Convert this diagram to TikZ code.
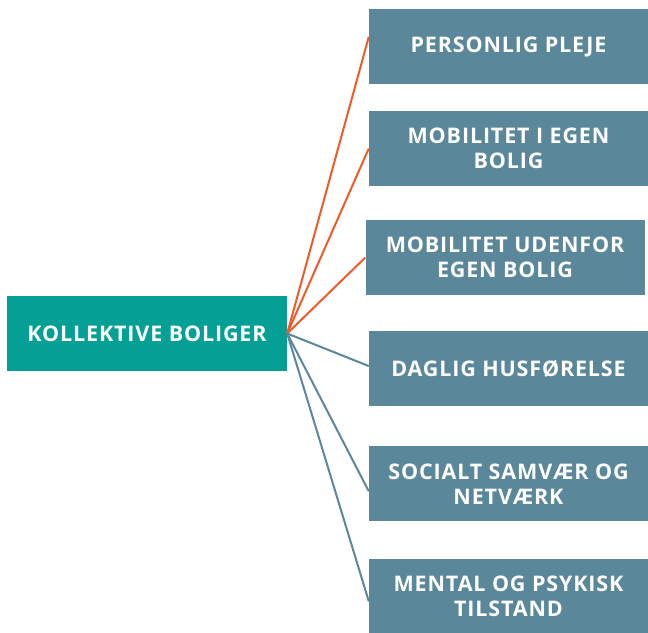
\documentclass[tikz,border=0pt]{standalone}
\usepackage{fontspec}
\setmainfont{Open Sans}[LetterSpace=4]
\definecolor{myteal}{HTML}{04A095}
\definecolor{myslate}{HTML}{5A8799}
\definecolor{myorange}{HTML}{F05A28}

\begin{document}
\begin{tikzpicture}[x=1pt,y=1pt]
\tikzset{box/.style ={shape=rectangle, fill=myslate, text=white, font=\bfseries\fontsize{21.5}{25}\selectfont, align=center, minimum width=279pt, minimum height=75pt, inner sep=0}}
\tikzset{hubbox/.style ={box, fill=myteal, minimum width=280pt}}
\tikzset{link/.style ={line width=2pt}}
\useasboundingbox (0,0) rectangle (648,632);
\node[hubbox] (hub) at (147,298.5) {KOLLEKTIVE BOLIGER};
\node[box] (pleje) at (508.5,585.5) {PERSONLIG PLEJE};
\node[box] (mobil) at (508.5,483.5) {MOBILITET I EGEN\\BOLIG};
\node[box] (ude) at (505,374.5) {MOBILITET UDENFOR\\EGEN BOLIG};
\node[box] (hus) at (508.5,263.5) {DAGLIG HUSFØRELSE};
\node[box] (social) at (508.5,148) {SOCIALT SAMVÆR OG\\NETVÆRK};
\node[box] (mental) at (508.5,35.5) {MENTAL OG PSYKISK\\TILSTAND};
% orange links
\draw[link, myorange] (hub.east) -- (pleje.176.5);
\draw[link, myorange] (hub.east) -- (mobil.west);
\draw[link, myorange] (hub.east) -- (ude.west);
% slate links
\draw[link, myslate] (hub.east) -- (hus.179.4);
\draw[link, myslate] (hub.east) -- (social.183.3);
\draw[link, myslate] (hub.east) -- (mental.182.9);
\end{tikzpicture}
\end{document}
